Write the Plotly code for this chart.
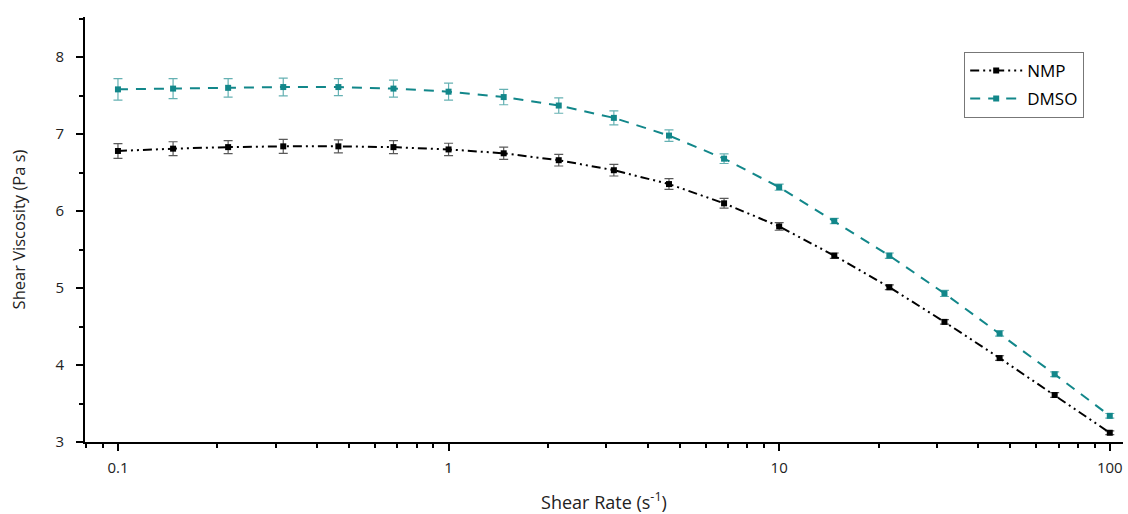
import plotly.graph_objects as go

shear_rate = [0.1, 0.1468, 0.2154, 0.3162, 0.4642, 0.6813, 1.0, 1.468, 2.154, 3.162,
              4.642, 6.813, 10.0, 14.68, 21.54, 31.62, 46.42, 68.13, 100.0]

nmp_visc = [6.78, 6.81, 6.83, 6.84, 6.84, 6.83, 6.80, 6.75, 6.66, 6.53,
            6.35, 6.10, 5.80, 5.42, 5.01, 4.56, 4.09, 3.61, 3.12]
nmp_err = [0.095, 0.09, 0.085, 0.09, 0.085, 0.085, 0.08, 0.08, 0.075, 0.075,
           0.07, 0.063, 0.05, 0.035, 0.03, 0.03, 0.03, 0.03, 0.025]

dmso_visc = [7.58, 7.59, 7.60, 7.61, 7.61, 7.59, 7.55, 7.48, 7.37, 7.21,
             6.98, 6.68, 6.31, 5.87, 5.42, 4.93, 4.41, 3.88, 3.34]
dmso_err = [0.14, 0.13, 0.12, 0.115, 0.11, 0.11, 0.11, 0.10, 0.10, 0.09,
            0.075, 0.063, 0.04, 0.035, 0.035, 0.04, 0.035, 0.03, 0.03]

TEAL = "#12878a"

fig = go.Figure()
fig.add_trace(go.Scatter(
    x=shear_rate, y=nmp_visc, name="NMP", mode="lines+markers", legendgroup="a",
    line=dict(color="black", width=2, dash="9px,4px,2px,4px,2px,4px"),
    marker=dict(symbol="square", size=6, color="black"),
    error_y=dict(type="data", array=nmp_err, visible=True, color="rgba(0,0,0,0.65)",
                 thickness=1.2, width=4.5),
))
fig.add_trace(go.Scatter(
    x=shear_rate, y=dmso_visc, name="DMSO", mode="lines+markers", legendgroup="b",
    line=dict(color=TEAL, width=2, dash="10px,8px"),
    marker=dict(symbol="square", size=6, color=TEAL),
    error_y=dict(type="data", array=dmso_err, visible=True, color="rgba(18,135,138,0.65)",
                 thickness=1.2, width=4.5),
))

fig.update_layout(
    width=1128, height=514,
    margin=dict(l=85, r=5, t=17, b=72, autoexpand=False),
    paper_bgcolor="white", plot_bgcolor="white",
    font=dict(family="Open Sans, Noto Sans, sans-serif", color="#222", size=15),
    showlegend=True,
    legend=dict(x=0.847, y=0.918, xanchor="left", yanchor="top",
                bordercolor="#777", borderwidth=1, bgcolor="white",
                font=dict(size=17, color="black"), itemwidth=52,
                tracegroupgap=3),
)
fig.update_xaxes(
    type="log", range=[-1.0997, 2.04], dtick=1, automargin=False,
    showline=True, linecolor="black", linewidth=2,
    ticks="outside", ticklen=7, tickwidth=2, tickcolor="black",
    showgrid=False, zeroline=False, ticklabelstandoff=4,
    minor=dict(ticks="outside", ticklen=4, tickwidth=1.5, tickcolor="black", dtick="D1", showgrid=False),
    title=dict(text="Shear Rate (s<sup>-1</sup>)", font=dict(size=18), standoff=22),
    tickfont=dict(size=15),
)
fig.update_yaxes(
    range=[3, 8.52], dtick=1, tick0=3, automargin=False,
    showline=True, linecolor="black", linewidth=2,
    ticks="outside", ticklen=7, tickwidth=2, tickcolor="black",
    showgrid=False, zeroline=False, ticklabelstandoff=9,
    minor=dict(ticks="outside", ticklen=4, tickwidth=1.5, tickcolor="black", dtick=0.5, showgrid=False),
    title=dict(text="Shear Viscosity (Pa s)", font=dict(size=16.5), standoff=26),
    tickfont=dict(size=15),
)

fig.write_html("out.html", config={"displayModeBar": False},
               post_script="document.body.style.margin='0';")
